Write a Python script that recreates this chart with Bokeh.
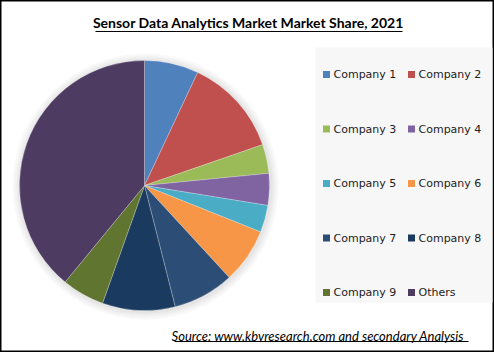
import numpy as np
from bokeh.plotting import figure
from bokeh.models import Range1d
from bokeh.core.properties import value
from bokeh.embed import file_html
from bokeh.resources import INLINE

# ---- data ----
companies = ["Company 1", "Company 2", "Company 3", "Company 4", "Company 5",
             "Company 6", "Company 7", "Company 8", "Company 9", "Others"]
shares = [7.0, 12.7, 3.75, 4.1, 3.5, 7.1, 7.9, 9.4, 5.5, 39.05]
colors = ["#4F81BD", "#C0504D", "#9BBB59", "#8064A2", "#4BACC6",
          "#F79646", "#2C4D75", "#1B3A5F", "#5F7530", "#4E3B62"]
title = "Sensor Data Analytics Market Market Share, 2021"
source = "Source:  www.kbvresearch.com   and secondary Analysis"

W, H = 494, 352
p = figure(width=W, height=H, output_backend="svg", toolbar_location=None,
           x_range=Range1d(0, W), y_range=Range1d(0, H), min_border=0)
p.axis.visible = False
p.grid.visible = False
p.outline_line_color = "#000000"
p.outline_line_width = 2
p.background_fill_color = "#ffffff"
p.border_fill_color = "#ffffff"

def Y(y):
    return H - y

# title
p.text(x=[248], y=[Y(22)], text=[title], text_font=value("Lato"),
       text_font_style="bold", text_font_size="14px", text_color="#000000",
       text_align="center", text_baseline="middle")
p.segment(x0=[95], y0=[Y(31)], x1=[402], y1=[Y(31)], line_color="#000000", line_width=1)

# legend background
p.quad(left=315, right=492, top=Y(47), bottom=Y(302), fill_color="#f7f7f7", line_color=None)

# pie shadow
cx, cy, r = 144, Y(185), 125
for k, a in enumerate([0.05, 0.05, 0.06, 0.07]):
    p.circle(x=[cx + 1], y=[cy - 1], radius=r + 8 - 2 * k, fill_color="#888888",
             fill_alpha=a, line_color=None)

# pie
s = np.array(shares) / sum(shares)
cum = np.concatenate([[0], np.cumsum(s)])
start = np.pi / 2 - cum[:-1] * 2 * np.pi
end = np.pi / 2 - cum[1:] * 2 * np.pi
p.wedge(x=cx, y=cy, radius=r, start_angle=start, end_angle=end, direction="clock",
        fill_color=colors, line_color="#ffffff", line_alpha=0.35, line_width=0.7)

# legend
idx = np.arange(len(companies))
lx = np.where(idx % 2 == 0, 326, 411)
ly = np.array([Y(74 + 54.5 * (i // 2)) for i in idx])
p.rect(x=lx, y=ly, width=7, height=7, fill_color=colors, line_color=None)
p.text(x=lx + 7, y=ly, text=companies, text_font=value("DejaVu Sans"),
       text_font_size="11px", text_color="#222222", text_baseline="middle")

# source
p.text(x=[322], y=[Y(335)], text=[source], text_font=value("Lato"),
       text_font_style="italic", text_font_size="13px", text_color="#000000",
       text_align="center", text_baseline="middle")
p.segment(x0=[174], y0=[Y(341)], x1=[468], y1=[Y(341)], line_color="#000000", line_width=1)

open("out.html", "w").write(file_html(p, INLINE))
